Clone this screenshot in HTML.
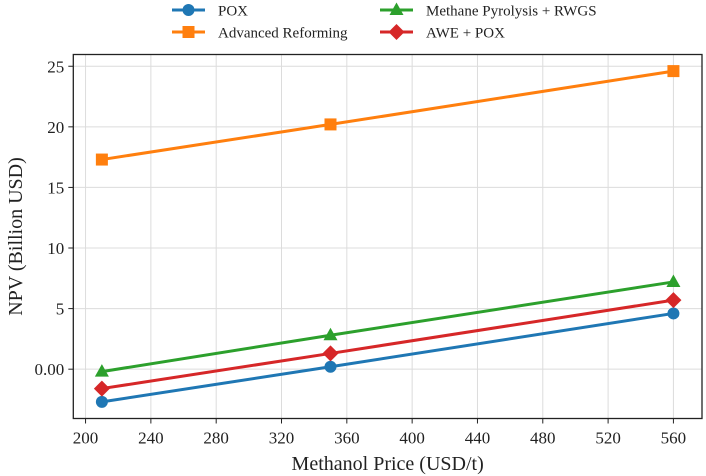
<!DOCTYPE html>
<html><head><meta charset="utf-8"><style>
html,body{margin:0;padding:0;background:#fff;}
svg{display:block;font-family:"Liberation Serif",serif;}
</style></head><body>
<svg id="chart" width="706" height="476"></svg>
<script>
const xCategories = [210, 350, 560];
const poxValues = [-2.7, 0.2, 4.6];
const advancedReformingValues = [17.3, 20.2, 24.6];
const pyrolysisValues = [-0.2, 2.8, 7.2];
const aweValues = [-1.6, 1.3, 5.7];
const xTicks = [200, 240, 280, 320, 360, 400, 440, 480, 520, 560];
const yTicks = [0, 5, 10, 15, 20, 25];
const yTickLabels = ["0.00", "5", "10", "15", "20", "25"];
const seriesNames = ["POX", "Advanced Reforming", "Methane Pyrolysis + RWGS", "AWE + POX"];

const NS = "http://www.w3.org/2000/svg";
const svg = document.getElementById("chart");
const L = 73.3, R = 702, T = 54.5, B = 418.5;
const xMin = 192.5, xMax = 577.5, yMin = -4.07, yMax = 25.97;
const xs = v => L + (v - xMin) / (xMax - xMin) * (R - L);
const ys = v => B - (v - yMin) / (yMax - yMin) * (B - T);
function mk(tag, attrs, parent) {
  const e = document.createElementNS(NS, tag);
  for (const k in attrs) e.setAttribute(k, attrs[k]);
  (parent || svg).appendChild(e);
  return e;
}
xTicks.forEach(t => {
  const g = mk("line", {x1: xs(t), x2: xs(t), y1: T, y2: B, stroke: "#dcdcdc", "stroke-width": 1});
  
  
  const tk = mk("line", {x1: xs(t), x2: xs(t), y1: B, y2: B + 5, stroke: "#222", "stroke-width": 1});
  
  
  const tx = mk("text", {x: xs(t), y: B + 25, "text-anchor": "middle", "font-size": 17, fill: "#222"});
  tx.textContent = t;
  
  
});
yTicks.forEach((t, i) => {
  const g = mk("line", {x1: L, x2: R, y1: ys(t), y2: ys(t), stroke: "#dcdcdc", "stroke-width": 1});
  
  
  const tk = mk("line", {x1: L - 5, x2: L, y1: ys(t), y2: ys(t), stroke: "#222", "stroke-width": 1});
  
  
  const tx = mk("text", {x: L - 9, y: ys(t) + 6, "text-anchor": "end", "font-size": 17, fill: "#222"});
  tx.textContent = yTickLabels[i];
  
  
});
const frame = mk("rect", {x: L, y: T, width: R - L, height: B - T, fill: "none", stroke: "#222", "stroke-width": 1.3});



function marker(type, cx, cy, color, parent) {
  let e;
  if (type === "circle") e = mk("circle", {cx, cy, r: 6, fill: color}, parent);
  else if (type === "square") e = mk("rect", {x: cx - 6, y: cy - 6, width: 12, height: 12, fill: color}, parent);
  else if (type === "triangle") e = mk("polygon", {points: `${cx},${cy - 7.5} ${cx + 7},${cy + 5} ${cx - 7},${cy + 5}`, fill: color}, parent);
  else e = mk("polygon", {points: `${cx},${cy - 8} ${cx + 8},${cy} ${cx},${cy + 8} ${cx - 8},${cy}`, fill: color}, parent);
  return e;
}
const series = [
  {vals: poxValues, color: "#1f77b4", m: "circle", name: "series-pox"},
  {vals: advancedReformingValues, color: "#ff7f0e", m: "square", name: "series-advanced-reforming"},
  {vals: pyrolysisValues, color: "#2ca02c", m: "triangle", name: "series-methane-pyrolysis"},
  {vals: aweValues, color: "#d62728", m: "diamond", name: "series-awe-pox"}
];
series.forEach(s => {
  const g = mk("g", {});
  
  
  const pts = s.vals.map((v, i) => xs(xCategories[i]) + "," + ys(v)).join(" ");
  const pl = mk("polyline", {points: pts, fill: "none", stroke: s.color, "stroke-width": 3}, g);
  
  
  s.vals.forEach((v, i) => {
    const mm = marker(s.m, xs(xCategories[i]), ys(v), s.color, g);
    
    
  });
});
const xt = mk("text", {x: (L + R) / 2, y: 470, "text-anchor": "middle", "font-size": 20, fill: "#222"});
xt.textContent = "Methanol Price (USD/t)";


const yt = mk("text", {x: 0, y: 0, "text-anchor": "middle", "font-size": 20, fill: "#222", transform: `translate(22,${(T + B) / 2}) rotate(-90)`});
yt.textContent = "NPV (Billion USD)";


const legPos = [[172, 10], [172, 32], [380, 10], [380, 32]];
series.forEach((s, i) => {
  const [lx, ly] = legPos[i];
  const g = mk("g", {});
  
  
  mk("line", {x1: lx, x2: lx + 33, y1: ly, y2: ly, stroke: s.color, "stroke-width": 3}, g);
  marker(s.m, lx + 16.5, ly, s.color, g);
  const t = mk("text", {x: lx + 46, y: ly + 5.5, "font-size": 15, fill: "#222"}, g);
  t.textContent = seriesNames[i];
});
</script>
</body></html>
